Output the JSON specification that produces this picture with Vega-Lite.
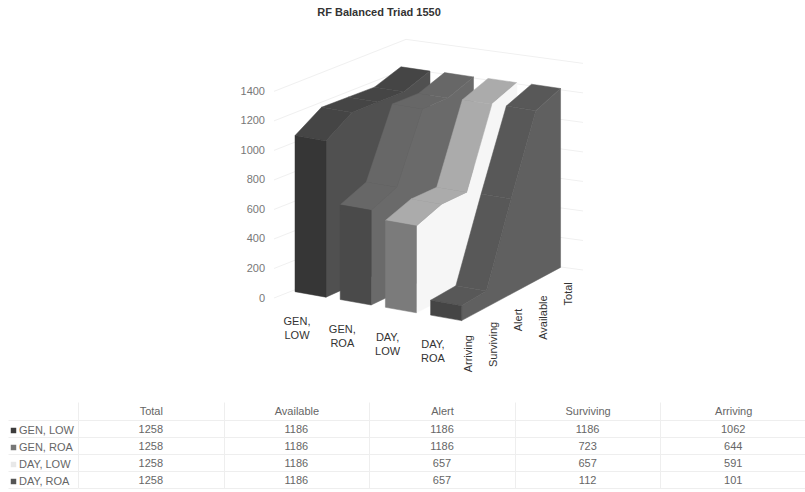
{
"$schema":"https://vega.github.io/schema/vega-lite/v6.json",
"padding":{"left":7,"top":0,"right":0,"bottom":0},
"background":"white",
"datasets":{
"rows":[
{"series":"GEN, LOW","stage":"Total","value":1258},{"series":"GEN, LOW","stage":"Available","value":1186},{"series":"GEN, LOW","stage":"Alert","value":1186},{"series":"GEN, LOW","stage":"Surviving","value":1186},{"series":"GEN, LOW","stage":"Arriving","value":1062},
{"series":"GEN, ROA","stage":"Total","value":1258},{"series":"GEN, ROA","stage":"Available","value":1186},{"series":"GEN, ROA","stage":"Alert","value":1186},{"series":"GEN, ROA","stage":"Surviving","value":723},{"series":"GEN, ROA","stage":"Arriving","value":644},
{"series":"DAY, LOW","stage":"Total","value":1258},{"series":"DAY, LOW","stage":"Available","value":1186},{"series":"DAY, LOW","stage":"Alert","value":657},{"series":"DAY, LOW","stage":"Surviving","value":657},{"series":"DAY, LOW","stage":"Arriving","value":591},
{"series":"DAY, ROA","stage":"Total","value":1258},{"series":"DAY, ROA","stage":"Available","value":1186},{"series":"DAY, ROA","stage":"Alert","value":657},{"series":"DAY, ROA","stage":"Surviving","value":112},{"series":"DAY, ROA","stage":"Arriving","value":101}
],
"ticks":[{"tick":0},{"tick":200},{"tick":400},{"tick":600},{"tick":800},{"tick":1000},{"tick":1200},{"tick":1400}]
},
"spacing":0,
"bounds":"flush",
"resolve":{"scale":{"fill":"independent","x":"independent","y":"independent"}},
"config":{"view":{"stroke":null},"font":"Liberation Sans"},
"vconcat":[
{
"width":728,"height":420,
"title":{"text":"RF Balanced Triad 1550","fontSize":11,"fontWeight":"bold","color":"#333","font":"Liberation Sans","anchor":"middle","dx":-63,"offset":-18},
"layer":[
{"data":{"name":"ticks"},
 "transform":[{"calculate":"298-datum.tick*0.1476","as":"y0"},{"calculate":"273","as":"x0"},{"calculate":"405","as":"x1"},{"calculate":"datum.y0-52","as":"y1"}],
 "mark":{"type":"rule","color":"#f0f0f0","strokeWidth":1},
 "encoding":{"x":{"field":"x0","type":"quantitative","scale":{"domain":[77,805],"nice":false,"zero":false},"axis":null},"x2":{"field":"x1"},"y":{"field":"y0","type":"quantitative","scale":{"domain":[420,0],"nice":false,"zero":false},"axis":null},"y2":{"field":"y1"}}},
{"data":{"name":"ticks"},
 "transform":[{"calculate":"246-datum.tick*0.1476","as":"y0"},{"calculate":"405","as":"x0"},{"calculate":"582","as":"x1"},{"calculate":"datum.y0+24","as":"y1"}],
 "mark":{"type":"rule","color":"#f0f0f0","strokeWidth":1},
 "encoding":{"x":{"field":"x0","type":"quantitative"},"x2":{"field":"x1"},"y":{"field":"y0","type":"quantitative"},"y2":{"field":"y1"}}},
{"data":{"name":"ticks"},
 "transform":[{"calculate":"298.5-datum.tick*0.1476","as":"y0"},{"calculate":"264","as":"x0"}],
 "mark":{"type":"text","align":"right","baseline":"middle","fontSize":11,"color":"#777777"},
 "encoding":{"x":{"field":"x0","type":"quantitative"},"y":{"field":"y0","type":"quantitative"},"text":{"field":"tick","type":"quantitative"}}},
{"data":{"name":"rows"},
 "transform":[
 {"calculate":"indexof(['GEN, LOW','GEN, ROA','DAY, LOW','DAY, ROA'],datum.series)","as":"si"},
 {"calculate":"indexof(['Arriving','Surviving','Alert','Available','Total'],datum.stage)","as":"sj"},
 {"calculate":"[{f:'top',k:datum.sj,e:0,z:1,o:0},{f:'top',k:datum.sj,e:1,z:1,o:3},{f:'top',k:datum.sj-1,e:0,z:1,o:1},{f:'top',k:datum.sj-1,e:1,z:1,o:2},{f:'wall',k:0,e:1,z:1,o:datum.sj},{f:'wall',k:0,e:1,z:0,o:9-datum.sj},{f:'front',k:datum.sj,e:0,z:1,o:0},{f:'front',k:datum.sj,e:1,z:1,o:1},{f:'front',k:datum.sj,e:1,z:0,o:2},{f:'front',k:datum.sj,e:0,z:0,o:3}]","as":"m"},
 {"flatten":["m"]},
 {"filter":"(datum.m.f=='top'&&datum.m.k>=0&&datum.m.k<=3)||datum.m.f=='wall'||(datum.m.f=='front'&&datum.m.k==0)"},
 {"calculate":"datum.si+'|'+datum.m.f+'|'+datum.m.k","as":"poly"},
 {"calculate":"datum.series+' '+datum.m.f","as":"face"},
 {"calculate":"datum.m.o","as":"ord"},
 {"calculate":"294+45.2*datum.si+(26.5-0.42*datum.si)*datum.sj+(31-0.5*datum.sj)*datum.m.e","as":"px"},
 {"calculate":"291.7+7.8*datum.si-(11.5+0.5*datum.si)*datum.sj+(5.5-0.3*datum.sj)*datum.m.e-datum.m.z*datum.value*(0.147-0.0012*datum.sj)","as":"py"}
 ],
 "mark":{"type":"line","interpolate":"linear-closed","strokeWidth":0.5},
 "encoding":{
 "x":{"field":"px","type":"quantitative"},"y":{"field":"py","type":"quantitative"},
 "detail":{"field":"poly"},"order":{"field":"ord","type":"quantitative"},
 "fill":{"field":"face","type":"nominal","legend":null,"scale":{"domain":["GEN, LOW top","GEN, LOW wall","GEN, LOW front","GEN, ROA top","GEN, ROA wall","GEN, ROA front","DAY, LOW top","DAY, LOW wall","DAY, LOW front","DAY, ROA top","DAY, ROA wall","DAY, ROA front"],"range":["#454545","#505050","#363636","#676767","#6a6a6a","#4a4a4a","#ababab","#f6f6f6","#7b7b7b","#585858","#606060","#454545"]}},
 "stroke":{"field":"face","type":"nominal","legend":null,"scale":{"domain":["GEN, LOW top","GEN, LOW wall","GEN, LOW front","GEN, ROA top","GEN, ROA wall","GEN, ROA front","DAY, LOW top","DAY, LOW wall","DAY, LOW front","DAY, ROA top","DAY, ROA wall","DAY, ROA front"],"range":["#454545","#505050","#363636","#676767","#6a6a6a","#4a4a4a","#ababab","#f6f6f6","#7b7b7b","#585858","#606060","#454545"]}}
 }},
{"data":{"name":"rows"},
 "transform":[{"filter":"datum.series=='DAY, ROA'"},
 {"calculate":"indexof(['Arriving','Surviving','Alert','Available','Total'],datum.stage)","as":"sj"},
 {"calculate":"468+25*datum.sj","as":"lx"},{"calculate":"335-13.2*datum.sj","as":"ly"}],
 "mark":{"type":"text","angle":270,"align":"right","baseline":"middle","fontSize":11,"color":"#333333"},
 "encoding":{"x":{"field":"lx","type":"quantitative"},"y":{"field":"ly","type":"quantitative"},"text":{"field":"stage"}}},
{"data":{"name":"rows"},
 "transform":[{"filter":"datum.stage=='Total'"},
 {"calculate":"indexof(['GEN, LOW','GEN, ROA','DAY, LOW','DAY, ROA'],datum.series)","as":"si"},
 {"calculate":"296+45.3*datum.si","as":"lx"},{"calculate":"322+7.8*datum.si","as":"ly"},
 {"calculate":"split(replace(datum.series,', ',',|'),'|')","as":"lab"}],
 "mark":{"type":"text","align":"center","baseline":"middle","fontSize":11,"color":"#333333","lineHeight":14},
 "encoding":{"x":{"field":"lx","type":"quantitative"},"y":{"field":"ly","type":"quantitative"},"text":{"field":"lab"}}}
]
},
{
"width":728,"height":68,
"data":{"name":"rows"},
"layer":[
{"mark":{"type":"rect","opacity":0},
 "encoding":{
 "x":{"field":"stage","type":"nominal","sort":["Total","Available","Alert","Surviving","Arriving"],"title":null,"scale":{"paddingInner":0,"paddingOuter":0},
  "axis":{"orient":"top","labelAngle":0,"labelFontSize":11,"labelColor":"#666666","tickBand":"extent","tickSize":18,"tickColor":"#eeeeee","labelPadding":-14,"grid":true,"gridColor":"#eeeeee","domain":false}},
 "y":{"field":"series","type":"nominal","sort":["GEN, LOW","GEN, ROA","DAY, LOW","DAY, ROA"],"title":null,"scale":{"paddingInner":0,"paddingOuter":0},
  "axis":{"labels":false,"tickBand":"extent","tickSize":70,"tickColor":"#eeeeee","grid":true,"gridColor":"#eeeeee","domain":false}},
 "fill":{"field":"series","type":"nominal","sort":["GEN, LOW","GEN, ROA","DAY, LOW","DAY, ROA"],"scale":{"domain":["GEN, LOW","GEN, ROA","DAY, LOW","DAY, ROA"],"range":["#3c3c3c","#777777","#e8e8e8","#555555"]},
  "legend":{"title":null,"orient":"none","legendX":-70,"legendY":5,"symbolType":"square","symbolSize":30,"symbolOpacity":1,"labelFontSize":11,"labelColor":"#666666","labelFont":"Liberation Sans","rowPadding":5,"padding":0,"labelOffset":0,"symbolStrokeWidth":0}}
 }},
{"mark":{"type":"text","fontSize":11,"color":"#666666","dy":1},
 "encoding":{
 "x":{"field":"stage","type":"nominal","sort":["Total","Available","Alert","Surviving","Arriving"]},
 "y":{"field":"series","type":"nominal","sort":["GEN, LOW","GEN, ROA","DAY, LOW","DAY, ROA"]},
 "text":{"field":"value","type":"quantitative"}
 }}
]
}
]
}
